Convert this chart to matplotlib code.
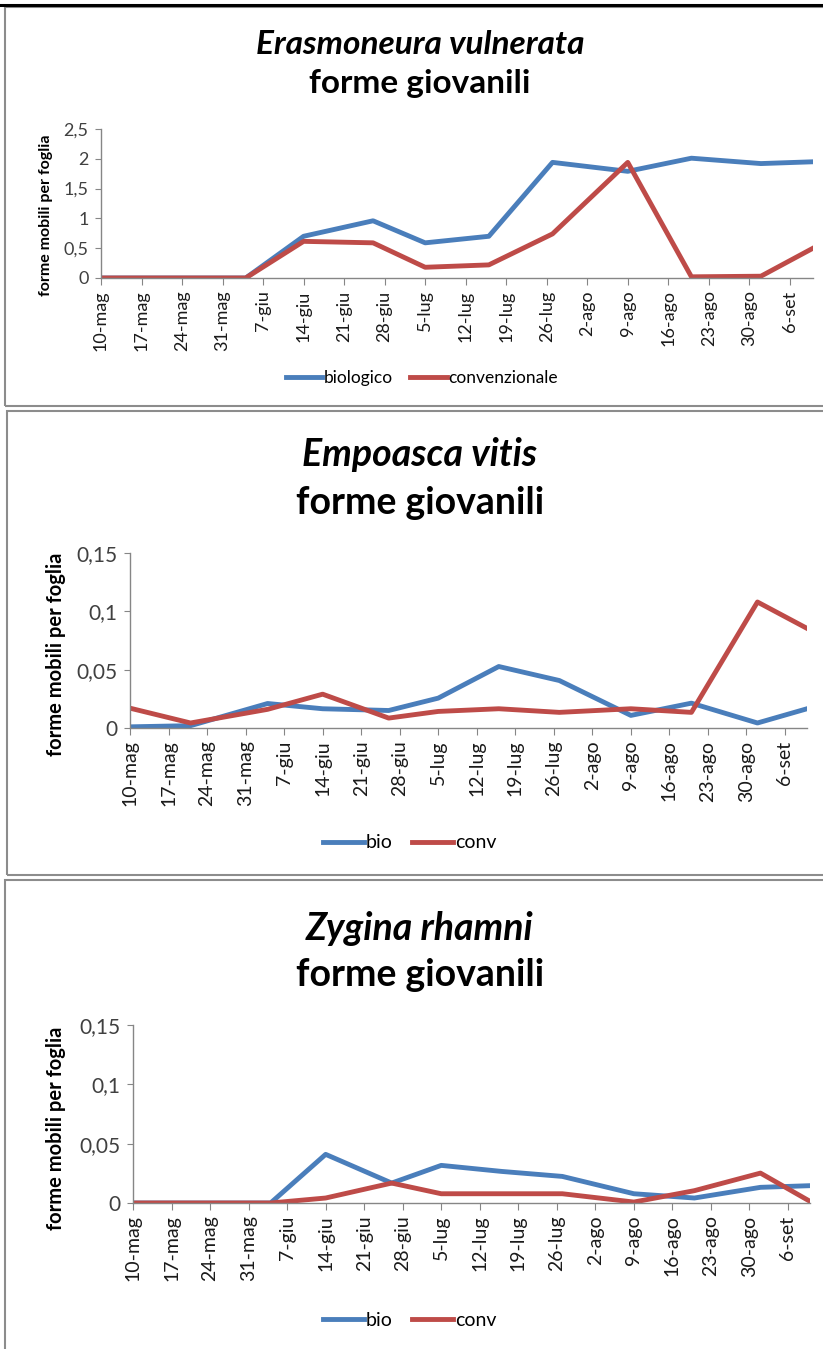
import numpy as np
import pandas as pd
import matplotlib
matplotlib.use("Agg")
import matplotlib.pyplot as plt
from matplotlib.patches import Rectangle
from matplotlib.ticker import FuncFormatter

plt.rcParams['font.family'] = ['Lato', 'DejaVu Sans']

W, H = 823, 1349

# date di campionamento
dates = pd.to_datetime(["2012-05-10", "2012-05-21", "2012-06-04", "2012-06-14",
                        "2012-06-26", "2012-07-05", "2012-07-16", "2012-07-27",
                        "2012-08-09", "2012-08-20", "2012-09-01", "2012-09-10"])

tick_labels = ["10-mag", "17-mag", "24-mag", "31-mag", "7-giu", "14-giu", "21-giu",
               "28-giu", "5-lug", "12-lug", "19-lug", "26-lug", "2-ago", "9-ago",
               "16-ago", "23-ago", "30-ago", "6-set"]

# Erasmoneura vulnerata
eras_bio = [0, 0, 0, 0.70, 0.96, 0.59, 0.70, 1.94, 1.79, 2.01, 1.92, 1.95]
eras_conv = [0, 0, 0, 0.615, 0.59, 0.18, 0.22, 0.74, 1.94, 0.02, 0.03, 0.50]

# Empoasca vitis
empo_bio = [0.001, 0.002, 0.021, 0.0165, 0.015, 0.0256, 0.0527, 0.0407, 0.0108, 0.0213, 0.0043, 0.0165]
empo_conv = [0.017, 0.0043, 0.016, 0.029, 0.0085, 0.0142, 0.0165, 0.0134, 0.0165, 0.0134, 0.108, 0.0854]

# Zygina rhamni
zyg_bio = [0, 0, 0, 0.041, 0.0168, 0.0317, 0.0266, 0.0224, 0.0078, 0.0042, 0.0132, 0.0146]
zyg_conv = [0, 0, 0, 0.0042, 0.0168, 0.0078, 0.0078, 0.0078, 0.0008, 0.0104, 0.0252, 0.0014]

BLUE = "#4a7ebb"
RED = "#be4b48"
GRAY = "#868686"


def px_rect(left, top, right, bottom):
    return [left / W, 1 - bottom / H, (right - left) / W, (bottom - top) / H]


def comma_fmt(v, pos):
    return ("%g" % round(v, 4)).replace(".", ",")


def make_panel(fig, rect, ymax, ystep, bio, conv, names, title, t_y, lab_x, fs, leg_y, leg_x):
    ax = fig.add_axes(px_rect(*rect))
    l1, = ax.plot(dates, bio, color=BLUE, lw=3.5, solid_joinstyle='round', label=names[0])
    l2, = ax.plot(dates, conv, color=RED, lw=3.5, solid_joinstyle='round', label=names[1])
    ax.set_xlim(dates[0], dates[-1])
    ax.set_ylim(0, ymax)
    ticks = pd.date_range(dates[0], periods=len(tick_labels), freq="7D")
    ax.set_xticks(ticks)
    ax.set_xticklabels(tick_labels, rotation=90, ha='center', va='top', fontsize=fs['x'])
    ax.set_yticks(np.arange(0, ymax + ystep / 2, ystep))
    ax.yaxis.set_major_formatter(FuncFormatter(comma_fmt))
    ax.tick_params(axis='y', labelsize=fs['y'], colors=GRAY, labelcolor="#404040", length=4, pad=5)
    ax.tick_params(axis='x', colors=GRAY, labelcolor="#1a1a1a", length=5, pad=4)
    for s in ['top', 'right']:
        ax.spines[s].set_visible(False)
    for s in ['left', 'bottom']:
        ax.spines[s].set_color(GRAY)
        ax.spines[s].set_linewidth(1.0)
    ax.set_ylabel("forme mobili per foglia", fontsize=fs['lab'], fontweight='bold')
    left, top, right, bottom = rect
    ax.yaxis.set_label_coords((lab_x - left) / (right - left), 0.42)
    cx = 420 / W
    fig.text(cx, 1 - t_y[0] / H, title, ha='center', va='center', fontsize=fs['t'],
             fontweight='bold', style='italic')
    fig.text(cx, 1 - t_y[1] / H, "forme giovanili", ha='center', va='center',
             fontsize=fs['t'], fontweight='bold')
    fig.legend(handles=[l1, l2], loc='center', bbox_to_anchor=(leg_x / W, 1 - leg_y / H),
               ncol=2, frameon=False, fontsize=fs['leg'], handlelength=2.1,
               handletextpad=0.1, columnspacing=1.0)
    return ax


fig = plt.figure(figsize=(W / 100, H / 100), dpi=100)

# cornici
fig.add_artist(Rectangle((5 / W, 1 - 406 / H), 900 / W, 399 / H, transform=fig.transFigure,
                         fill=False, edgecolor="#8c8c8c", lw=1.5))
fig.add_artist(Rectangle((7 / W, 1 - 875 / H), 900 / W, 464 / H, transform=fig.transFigure,
                         fill=False, edgecolor="#8c8c8c", lw=1.5))
fig.add_artist(Rectangle((5 / W, 1 - 1400 / H), 900 / W, 520 / H, transform=fig.transFigure,
                         fill=False, edgecolor="#8c8c8c", lw=1.5))
fig.add_artist(plt.Line2D([0, 1], [1 - 5 / H, 1 - 5 / H], transform=fig.transFigure,
                          color="black", lw=2.2))

fs1 = {'x': 13, 'y': 13, 'lab': 11.5, 't': 24, 'leg': 12.5}
fs2 = {'x': 14, 'y': 15, 'lab': 14.5, 't': 27, 'leg': 14}

make_panel(fig, (101, 129, 813, 278), 2.5, 0.5, eras_bio, eras_conv,
           ["biologico", "convenzionale"], "Erasmoneura vulnerata", (45, 84), 53, fs1, 378, 422)
make_panel(fig, (130, 553, 807, 728), 0.15, 0.05, empo_bio, empo_conv,
           ["bio", "conv"], "Empoasca vitis", (455, 503), 66, fs2, 843, 410)
make_panel(fig, (133, 1025, 810, 1203), 0.15, 0.05, zyg_bio, zyg_conv,
           ["bio", "conv"], "Zygina rhamni", (928, 975), 66, fs2, 1320, 410)

fig.savefig("out.png", dpi=100)
